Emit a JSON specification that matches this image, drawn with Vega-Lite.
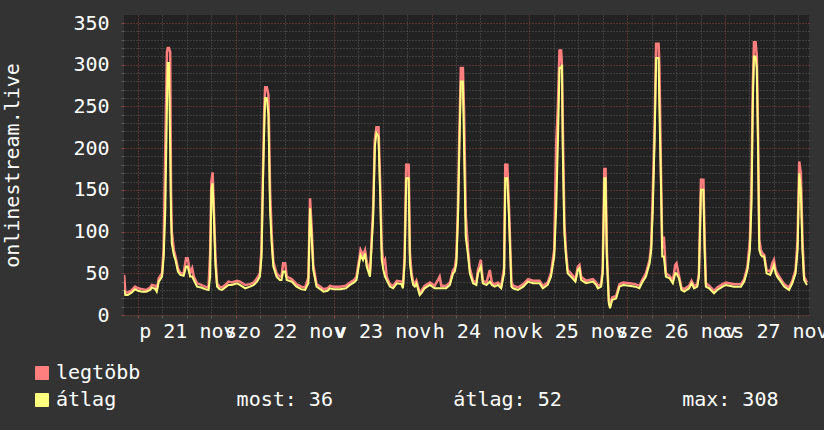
{
  "$schema": "https://vega.github.io/schema/vega-lite/v6.json",
  "width": 685,
  "height": 300,
  "autosize": {"type": "none"},
  "padding": {"left": 124, "top": 15, "right": 15, "bottom": 115},
  "background": "#333333",
  "config": {"view": {"fill": "#222222", "stroke": null}, "font": "DejaVu Sans Mono"},
  "data": {"values": [
    {"t": -3.4, "mx": 48, "av": 30}, {"t": -3.1, "mx": 27, "av": 24}, {"t": -2.5, "mx": 27, "av": 24}, {"t": -1.5, "mx": 30, "av": 27},
    {"t": -0.7, "mx": 34, "av": 31}, {"t": 0, "mx": 32, "av": 29}, {"t": 1, "mx": 31, "av": 28}, {"t": 2, "mx": 30, "av": 28},
    {"t": 3, "mx": 33, "av": 30}, {"t": 3.4, "mx": 36, "av": 33}, {"t": 4.25, "mx": 35, "av": 31}, {"t": 4.6, "mx": 30, "av": 28},
    {"t": 5.1, "mx": 44, "av": 40}, {"t": 5.9, "mx": 50, "av": 46}, {"t": 6.3, "mx": 80, "av": 70}, {"t": 6.7, "mx": 200, "av": 126},
    {"t": 7.1, "mx": 315, "av": 250}, {"t": 7.3, "mx": 320, "av": 302}, {"t": 7.6, "mx": 320, "av": 302}, {"t": 7.9, "mx": 315, "av": 200},
    {"t": 8.1, "mx": 150, "av": 120}, {"t": 8.3, "mx": 100, "av": 86}, {"t": 8.8, "mx": 78, "av": 72}, {"t": 9.2, "mx": 70, "av": 66},
    {"t": 9.8, "mx": 56, "av": 52}, {"t": 10.4, "mx": 50, "av": 48}, {"t": 11.2, "mx": 50, "av": 47}, {"t": 11.8, "mx": 68, "av": 58},
    {"t": 12.2, "mx": 68, "av": 58}, {"t": 12.8, "mx": 50, "av": 46}, {"t": 13.3, "mx": 56, "av": 46}, {"t": 13.7, "mx": 46, "av": 42},
    {"t": 14.5, "mx": 38, "av": 34}, {"t": 15.5, "mx": 36, "av": 33}, {"t": 16.5, "mx": 34, "av": 31}, {"t": 17.3, "mx": 33, "av": 30},
    {"t": 17.7, "mx": 74, "av": 46}, {"t": 18.0, "mx": 160, "av": 150}, {"t": 18.3, "mx": 171, "av": 158}, {"t": 18.6, "mx": 130, "av": 120},
    {"t": 19.0, "mx": 70, "av": 60}, {"t": 19.4, "mx": 38, "av": 34}, {"t": 20.0, "mx": 34, "av": 31}, {"t": 20.6, "mx": 33, "av": 30},
    {"t": 21.4, "mx": 36, "av": 33}, {"t": 22.2, "mx": 40, "av": 36}, {"t": 23.0, "mx": 39, "av": 36}, {"t": 24.3, "mx": 41, "av": 38},
    {"t": 25.0, "mx": 40, "av": 36}, {"t": 26.3, "mx": 36, "av": 32}, {"t": 27.5, "mx": 37, "av": 34}, {"t": 28.4, "mx": 39, "av": 36},
    {"t": 29.2, "mx": 44, "av": 40}, {"t": 29.9, "mx": 50, "av": 46}, {"t": 30.3, "mx": 80, "av": 70}, {"t": 30.7, "mx": 180, "av": 170},
    {"t": 31.0, "mx": 250, "av": 230}, {"t": 31.2, "mx": 273, "av": 260}, {"t": 31.6, "mx": 273, "av": 260}, {"t": 32.0, "mx": 264, "av": 240},
    {"t": 32.4, "mx": 150, "av": 126}, {"t": 32.8, "mx": 96, "av": 86}, {"t": 33.2, "mx": 64, "av": 58}, {"t": 34.0, "mx": 50, "av": 46},
    {"t": 34.8, "mx": 46, "av": 42}, {"t": 35.2, "mx": 46, "av": 42}, {"t": 35.6, "mx": 62, "av": 52}, {"t": 36.1, "mx": 62, "av": 52},
    {"t": 36.5, "mx": 46, "av": 42}, {"t": 37.7, "mx": 43, "av": 40}, {"t": 38.9, "mx": 37, "av": 34}, {"t": 40.0, "mx": 34, "av": 31},
    {"t": 41.0, "mx": 33, "av": 30}, {"t": 41.8, "mx": 45, "av": 38}, {"t": 42.2, "mx": 140, "av": 128}, {"t": 42.6, "mx": 105, "av": 94},
    {"t": 43.0, "mx": 60, "av": 54}, {"t": 43.8, "mx": 37, "av": 34}, {"t": 45.0, "mx": 33, "av": 30}, {"t": 45.5, "mx": 31, "av": 28},
    {"t": 46.5, "mx": 32, "av": 29}, {"t": 47.1, "mx": 35, "av": 32}, {"t": 48.0, "mx": 34, "av": 31}, {"t": 49.6, "mx": 34, "av": 31},
    {"t": 51.0, "mx": 35, "av": 32}, {"t": 52.0, "mx": 39, "av": 36}, {"t": 53.0, "mx": 42, "av": 39}, {"t": 53.6, "mx": 46, "av": 42},
    {"t": 54.6, "mx": 78, "av": 72}, {"t": 55.2, "mx": 72, "av": 66}, {"t": 55.7, "mx": 78, "av": 74}, {"t": 56.1, "mx": 64, "av": 58},
    {"t": 56.9, "mx": 50, "av": 46}, {"t": 57.7, "mx": 130, "av": 118}, {"t": 58.1, "mx": 210, "av": 202}, {"t": 58.5, "mx": 225, "av": 218},
    {"t": 59.0, "mx": 225, "av": 214}, {"t": 59.4, "mx": 160, "av": 146}, {"t": 59.8, "mx": 80, "av": 66}, {"t": 60.2, "mx": 62, "av": 54},
    {"t": 60.6, "mx": 66, "av": 46}, {"t": 61.0, "mx": 46, "av": 42}, {"t": 61.8, "mx": 37, "av": 34}, {"t": 62.6, "mx": 35, "av": 32},
    {"t": 63.5, "mx": 41, "av": 38}, {"t": 64.6, "mx": 40, "av": 37}, {"t": 65.0, "mx": 35, "av": 32}, {"t": 65.4, "mx": 70, "av": 62},
    {"t": 65.8, "mx": 180, "av": 164}, {"t": 66.4, "mx": 180, "av": 164}, {"t": 66.7, "mx": 75, "av": 62}, {"t": 67.1, "mx": 50, "av": 46},
    {"t": 67.5, "mx": 40, "av": 36}, {"t": 67.9, "mx": 37, "av": 34}, {"t": 68.3, "mx": 41, "av": 38}, {"t": 69.1, "mx": 27, "av": 24},
    {"t": 69.5, "mx": 29, "av": 26}, {"t": 70.3, "mx": 35, "av": 32}, {"t": 71.6, "mx": 39, "av": 36}, {"t": 72.8, "mx": 35, "av": 32},
    {"t": 74.0, "mx": 46, "av": 32}, {"t": 74.4, "mx": 35, "av": 32}, {"t": 75.6, "mx": 35, "av": 32}, {"t": 76.5, "mx": 39, "av": 36},
    {"t": 77.3, "mx": 54, "av": 50}, {"t": 77.7, "mx": 56, "av": 52}, {"t": 78.1, "mx": 70, "av": 62}, {"t": 78.5, "mx": 130, "av": 118},
    {"t": 78.8, "mx": 210, "av": 194}, {"t": 79.2, "mx": 296, "av": 280}, {"t": 79.7, "mx": 296, "av": 280}, {"t": 80.0, "mx": 240, "av": 198},
    {"t": 80.4, "mx": 120, "av": 94}, {"t": 81.0, "mx": 76, "av": 70}, {"t": 81.4, "mx": 56, "av": 50}, {"t": 82.2, "mx": 41, "av": 38},
    {"t": 83.0, "mx": 39, "av": 36}, {"t": 83.4, "mx": 54, "av": 50}, {"t": 84.1, "mx": 66, "av": 58}, {"t": 84.6, "mx": 41, "av": 38},
    {"t": 85.5, "mx": 39, "av": 36}, {"t": 86.3, "mx": 54, "av": 40}, {"t": 86.8, "mx": 39, "av": 36}, {"t": 87.5, "mx": 37, "av": 34},
    {"t": 88.3, "mx": 39, "av": 36}, {"t": 89.1, "mx": 35, "av": 32}, {"t": 89.8, "mx": 56, "av": 50}, {"t": 90.1, "mx": 180, "av": 164},
    {"t": 90.6, "mx": 180, "av": 164}, {"t": 91.0, "mx": 130, "av": 118}, {"t": 91.6, "mx": 40, "av": 34}, {"t": 92.0, "mx": 35, "av": 32},
    {"t": 93.2, "mx": 33, "av": 30}, {"t": 94.5, "mx": 37, "av": 34}, {"t": 95.7, "mx": 43, "av": 40}, {"t": 96.9, "mx": 41, "av": 38},
    {"t": 97.65, "mx": 41, "av": 38}, {"t": 98.5, "mx": 41, "av": 38}, {"t": 99.3, "mx": 35, "av": 32}, {"t": 100.5, "mx": 39, "av": 36},
    {"t": 101.3, "mx": 50, "av": 46}, {"t": 101.7, "mx": 64, "av": 58}, {"t": 102.1, "mx": 78, "av": 70}, {"t": 102.6, "mx": 206, "av": 130},
    {"t": 103.0, "mx": 250, "av": 206}, {"t": 103.4, "mx": 317, "av": 296}, {"t": 103.8, "mx": 317, "av": 296}, {"t": 104.0, "mx": 300, "av": 300},
    {"t": 104.2, "mx": 230, "av": 198}, {"t": 104.6, "mx": 110, "av": 98}, {"t": 105.0, "mx": 76, "av": 70}, {"t": 105.4, "mx": 54, "av": 50},
    {"t": 106.2, "mx": 50, "av": 46}, {"t": 107.3, "mx": 43, "av": 40}, {"t": 107.9, "mx": 58, "av": 54}, {"t": 108.3, "mx": 60, "av": 56},
    {"t": 108.7, "mx": 46, "av": 42}, {"t": 109.9, "mx": 41, "av": 38}, {"t": 111.6, "mx": 43, "av": 40}, {"t": 112.4, "mx": 39, "av": 36},
    {"t": 112.8, "mx": 35, "av": 32}, {"t": 113.6, "mx": 37, "av": 34}, {"t": 114.0, "mx": 56, "av": 50}, {"t": 114.4, "mx": 175, "av": 164},
    {"t": 114.7, "mx": 175, "av": 164}, {"t": 115.0, "mx": 80, "av": 70}, {"t": 115.5, "mx": 17, "av": 14}, {"t": 115.8, "mx": 11, "av": 8},
    {"t": 116.3, "mx": 21, "av": 18}, {"t": 117.3, "mx": 23, "av": 20}, {"t": 118.1, "mx": 37, "av": 34}, {"t": 119.0, "mx": 39, "av": 36},
    {"t": 120.5, "mx": 38, "av": 35}, {"t": 122.0, "mx": 37, "av": 34}, {"t": 123.0, "mx": 35, "av": 32}, {"t": 123.8, "mx": 43, "av": 40},
    {"t": 124.6, "mx": 50, "av": 46}, {"t": 125.5, "mx": 66, "av": 62}, {"t": 125.9, "mx": 85, "av": 78}, {"t": 126.3, "mx": 150, "av": 130},
    {"t": 126.7, "mx": 220, "av": 206}, {"t": 127.1, "mx": 325, "av": 308}, {"t": 127.7, "mx": 325, "av": 308}, {"t": 127.9, "mx": 300, "av": 250},
    {"t": 128.3, "mx": 170, "av": 154}, {"t": 128.6, "mx": 80, "av": 70}, {"t": 129.0, "mx": 94, "av": 70}, {"t": 129.5, "mx": 50, "av": 46},
    {"t": 130.4, "mx": 47, "av": 44}, {"t": 131.2, "mx": 41, "av": 38}, {"t": 131.8, "mx": 60, "av": 50}, {"t": 132.1, "mx": 62, "av": 50},
    {"t": 132.7, "mx": 47, "av": 44}, {"t": 133.3, "mx": 33, "av": 30}, {"t": 134.0, "mx": 31, "av": 28}, {"t": 135.2, "mx": 35, "av": 32},
    {"t": 135.8, "mx": 41, "av": 38}, {"t": 136.4, "mx": 35, "av": 32}, {"t": 137.2, "mx": 37, "av": 34}, {"t": 137.6, "mx": 50, "av": 46},
    {"t": 138.1, "mx": 162, "av": 150}, {"t": 138.7, "mx": 162, "av": 150}, {"t": 139.0, "mx": 90, "av": 78}, {"t": 139.3, "mx": 38, "av": 34},
    {"t": 140.1, "mx": 35, "av": 32}, {"t": 141.3, "mx": 29, "av": 26}, {"t": 142.1, "mx": 33, "av": 30}, {"t": 143.4, "mx": 37, "av": 34},
    {"t": 144.2, "mx": 39, "av": 36}, {"t": 146.2, "mx": 37, "av": 34}, {"t": 147.9, "mx": 37, "av": 34}, {"t": 148.7, "mx": 43, "av": 40},
    {"t": 149.5, "mx": 58, "av": 54}, {"t": 150.1, "mx": 90, "av": 78}, {"t": 150.5, "mx": 160, "av": 134}, {"t": 150.8, "mx": 270, "av": 250},
    {"t": 151.1, "mx": 327, "av": 310}, {"t": 151.5, "mx": 327, "av": 310}, {"t": 151.8, "mx": 310, "av": 296}, {"t": 152.1, "mx": 220, "av": 202},
    {"t": 152.4, "mx": 90, "av": 78}, {"t": 152.8, "mx": 78, "av": 72}, {"t": 153.2, "mx": 74, "av": 70}, {"t": 153.6, "mx": 72, "av": 70},
    {"t": 154.2, "mx": 54, "av": 50}, {"t": 155.1, "mx": 52, "av": 48}, {"t": 155.6, "mx": 62, "av": 54}, {"t": 156.0, "mx": 66, "av": 60},
    {"t": 156.4, "mx": 54, "av": 50}, {"t": 156.8, "mx": 50, "av": 46}, {"t": 157.7, "mx": 43, "av": 40}, {"t": 158.5, "mx": 37, "av": 34},
    {"t": 159.7, "mx": 33, "av": 30}, {"t": 160.5, "mx": 41, "av": 38}, {"t": 161.3, "mx": 54, "av": 50}, {"t": 161.8, "mx": 90, "av": 78},
    {"t": 162.2, "mx": 184, "av": 170}, {"t": 162.6, "mx": 170, "av": 150}, {"t": 163.0, "mx": 90, "av": 78}, {"t": 163.4, "mx": 46, "av": 42},
    {"t": 164.1, "mx": 39, "av": 36}
  ]},
  "encoding": {
    "x": {
      "field": "t", "type": "quantitative",
      "scale": {"domain": [-3.43, 164.6], "nice": false, "zero": false},
      "axis": {
        "title": null,
        "values": [0, 6, 12, 18, 24, 30, 36, 42, 48, 54, 60, 66, 72, 78, 84, 90, 96, 102, 108, 114, 120, 126, 132, 138, 144, 150, 156, 162],
        "grid": true, "gridDash": [1, 2], "gridOpacity": 1, "gridWidth": 1,
        "gridColor": {"expr": "datum.value % 24 === 0 ? '#8a4646' : '#5a5a5a'"},
        "ticks": true, "tickSize": 3,
        "tickColor": {"expr": "datum.value % 24 === 0 ? '#8a4646' : '#5a5a5a'"},
        "domain": false,
        "labelExpr": "datum.value % 24 === 12 ? ['p 21 nov','szo 22 nov','v 23 nov','h 24 nov','k 25 nov','sze 26 nov','cs 27 nov'][floor(datum.value / 24)] : ''",
        "labelFont": "DejaVu Sans Mono", "labelFontSize": 20, "labelColor": "#ffffff",
        "labelPadding": 3, "labelOverlap": false, "labelBound": false, "labelFlush": false
      }
    }
  },
  "layer": [
    {
      "mark": {"type": "line", "strokeWidth": 2.5, "clip": true},
      "encoding": {
        "y": {
          "field": "mx", "type": "quantitative",
          "scale": {"domain": [0, 359.6], "nice": false, "zero": true},
          "axis": {
            "title": "onlinestream.live",
            "values": [0, 10, 20, 30, 40, 50, 60, 70, 80, 90, 100, 110, 120, 130, 140, 150, 160, 170, 180, 190, 200, 210, 220, 230, 240, 250, 260, 270, 280, 290, 300, 310, 320, 330, 340, 350],
            "grid": true, "gridDash": [1, 2], "gridOpacity": 1, "gridWidth": 1,
            "gridColor": {"expr": "datum.value % 50 === 0 ? '#8a4646' : '#5a5a5a'"},
            "ticks": true, "tickSize": 3,
            "tickColor": {"expr": "datum.value % 50 === 0 ? '#8a4646' : '#5a5a5a'"},
            "domain": false,
            "labelExpr": "datum.value % 50 === 0 ? datum.label : ''",
            "labelFont": "DejaVu Sans Mono", "labelFontSize": 20, "labelColor": "#ffffff",
            "labelPadding": 12, "labelOverlap": false, "labelBound": false, "labelFlush": false,
            "titleFont": "DejaVu Sans Mono", "titleFontSize": 20, "titleFontWeight": "normal",
            "titleColor": "#ffffff", "titlePadding": 50
          }
        },
        "color": {
          "datum": "legtöbb", "type": "nominal",
          "scale": {"domain": ["legtöbb", "átlag"], "range": ["#ff7f7f", "#ffff7f"]},
          "legend": {
            "title": null, "orient": "none", "legendX": -92, "legendY": 348,
            "direction": "vertical", "symbolType": "square", "symbolSize": 169,
            "padding": 0, "rowPadding": 7, "labelOffset": 4, "labelLimit": 0,
            "labelFont": "DejaVu Sans Mono", "labelFontSize": 20, "labelColor": "#ffffff",
            "labelExpr": "datum.label === 'átlag' ? 'átlag\u00a0\u00a0\u00a0\u00a0\u00a0\u00a0\u00a0\u00a0\u00a0\u00a0most: 36\u00a0\u00a0\u00a0\u00a0\u00a0\u00a0\u00a0\u00a0\u00a0\u00a0átlag: 52\u00a0\u00a0\u00a0\u00a0\u00a0\u00a0\u00a0\u00a0\u00a0\u00a0max: 308' : datum.label",
            "encode": {"symbols": {"update": {
              "fill": {"scale": "color", "field": "value"},
              "stroke": {"value": "#000000"},
              "strokeWidth": {"value": 1},
              "opacity": {"value": 1}
            }}}
          }
        }
      }
    },
    {
      "mark": {"type": "line", "strokeWidth": 2, "clip": true},
      "encoding": {
        "y": {
          "field": "av", "type": "quantitative",
          "scale": {"domain": [0, 359.6], "nice": false, "zero": true},
          "axis": {
            "title": "onlinestream.live",
            "values": [0, 10, 20, 30, 40, 50, 60, 70, 80, 90, 100, 110, 120, 130, 140, 150, 160, 170, 180, 190, 200, 210, 220, 230, 240, 250, 260, 270, 280, 290, 300, 310, 320, 330, 340, 350],
            "grid": true, "gridDash": [1, 2], "gridOpacity": 1, "gridWidth": 1,
            "gridColor": {"expr": "datum.value % 50 === 0 ? '#8a4646' : '#5a5a5a'"},
            "ticks": true, "tickSize": 3,
            "tickColor": {"expr": "datum.value % 50 === 0 ? '#8a4646' : '#5a5a5a'"},
            "domain": false,
            "labelExpr": "datum.value % 50 === 0 ? datum.label : ''",
            "labelFont": "DejaVu Sans Mono", "labelFontSize": 20, "labelColor": "#ffffff",
            "labelPadding": 12, "labelOverlap": false, "labelBound": false, "labelFlush": false,
            "titleFont": "DejaVu Sans Mono", "titleFontSize": 20, "titleFontWeight": "normal",
            "titleColor": "#ffffff", "titlePadding": 50
          }
        },
        "color": {"datum": "átlag", "type": "nominal"}
      }
    }
  ]
}
